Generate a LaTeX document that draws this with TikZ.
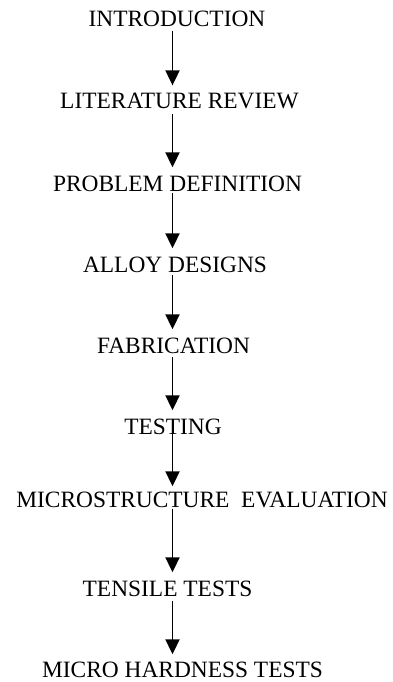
\documentclass[tikz,border=0pt]{standalone}
\usepackage{fontspec}
\setmainfont{Liberation Serif}
\usetikzlibrary{arrows.meta}
\begin{document}
\begin{tikzpicture}[x=1bp, y=-1bp,
  every node/.style={font=\fontsize{23.4bp}{28bp}\selectfont, anchor=base, inner sep=0pt},
  flow/.style={-{Triangle[width=14bp,length=15bp]}, line width=1.9bp, shorten <=4bp, shorten >=8bp}]
  \useasboundingbox (0,0) rectangle (392,682);
  \coordinate (axis) at (172.5,0);
  \node (intro)   at (177,27)    {INTRODUCTION};
  \node (lit)     at (179.5,109) {LITERATURE REVIEW};
  \node (prob)    at (177.5,191) {PROBLEM DEFINITION};
  \node (alloy)   at (175,272)   {ALLOY DESIGNS};
  \node (fab)     at (173.5,353) {FABRICATION};
  \node (test)    at (173,434)   {TESTING};
  \node (micro)   at (202,507)   {MICROSTRUCTURE\ \ EVALUATION};
  \node (tensile) at (167.5,596) {TENSILE TESTS};
  \node (hard)    at (182.5,677) {MICRO HARDNESS TESTS};
  \draw[flow] (intro.south -| axis) -- (lit.north -| axis);
  \draw[flow] (lit.south -| axis) -- (prob.north -| axis);
  \draw[flow, shorten <=2bp] (prob.south -| axis) -- (alloy.north -| axis);
  \draw[flow, shorten <=3bp] (alloy.south -| axis) -- (fab.north -| axis);
  \draw[flow] (fab.south -| axis) -- (test.north -| axis);
  \draw[flow, shorten <=1bp, shorten >=5bp] (test.north -| axis) -- (micro.north -| axis);
  \draw[flow, shorten <=1bp] (micro.south -| axis) -- (tensile.north -| axis);
  \draw[flow, shorten <=5bp, shorten >=7bp] (tensile.south -| axis) -- (hard.north -| axis);
\end{tikzpicture}
\end{document}
